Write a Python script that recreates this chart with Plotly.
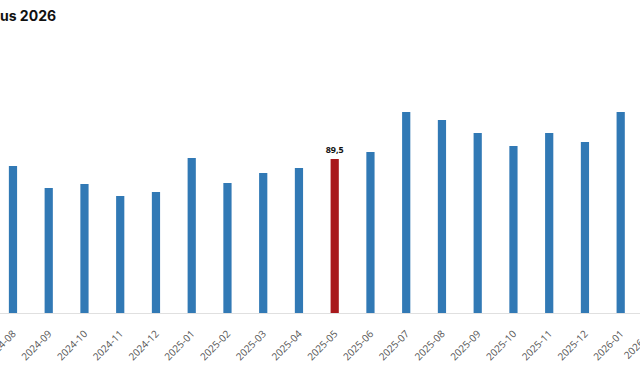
import plotly.graph_objects as go

categories = ["2024-08", "2024-09", "2024-10", "2024-11", "2024-12", "2025-01",
              "2025-02", "2025-03", "2025-04", "2025-05", "2025-06", "2025-07",
              "2025-08", "2025-09", "2025-10", "2025-11", "2025-12", "2026-01",
              "2026-02"]
values = [85.4, 72.6, 75.0, 68.0, 70.3, 90.1,
          75.5, 81.4, 84.3, 89.5, 93.6, 116.8,
          112.2, 104.6, 97.1, 104.6, 99.4, 116.8,
          None]
highlight = "2025-05"
highlight_label = "89,5"
title_text = "us 2026"

BLUE = "#3179b5"
RED = "#a8191c"

colors = [RED if c == highlight else BLUE for c in categories]
texts = [highlight_label if c == highlight else "" for c in categories]

X_RANGE = [-0.363, 17.54]

fig = go.Figure()
fig.add_trace(go.Bar(
    x=categories, y=values,
    marker=dict(color=colors, line=dict(width=0)),
    width=0.23,
    text=texts, textposition="outside", cliponaxis=False,
    constraintext="none",
    textfont=dict(family="Open Sans", size=9, color="#111", weight="bold"),
    hoverinfo="skip",
))

TICKFONT = dict(family="Open Sans", size=10, color="#555")

# the last category's tick label sits just past the right end of the axis range
last_idx = len(categories) - 1
last_paper_x = (last_idx - X_RANGE[0]) / (X_RANGE[1] - X_RANGE[0])
fig.add_annotation(
    x=last_paper_x, y=0, xref="paper", yref="paper",
    text=categories[-1], textangle=-45, showarrow=False,
    xanchor="right", yanchor="top", yshift=-9, xshift=4,
    font=TICKFONT,
)

fig.update_layout(
    width=640, height=375,
    margin=dict(l=0, r=0, t=40, b=62, autoexpand=False),
    paper_bgcolor="white", plot_bgcolor="white",
    showlegend=False,
    title=dict(text=title_text, x=0, xref="paper", xanchor="left",
               y=1 - 16 / 375, yref="container", yanchor="middle",
               font=dict(family="Inter", size=14, color="#111", weight="bold")),
    xaxis=dict(
        type="category",
        range=X_RANGE,
        automargin=False,
        tickangle=-45,
        tickfont=TICKFONT,
        showline=True, linecolor="#e0e0e0", linewidth=1,
        showgrid=False, zeroline=False,
        ticks="outside", ticklen=10, tickcolor="rgba(0,0,0,0)",
    ),
    yaxis=dict(
        range=[0, 273 / 1.7207],
        visible=False, showgrid=False, zeroline=False,
    ),
)

fig.write_html("out.html")
